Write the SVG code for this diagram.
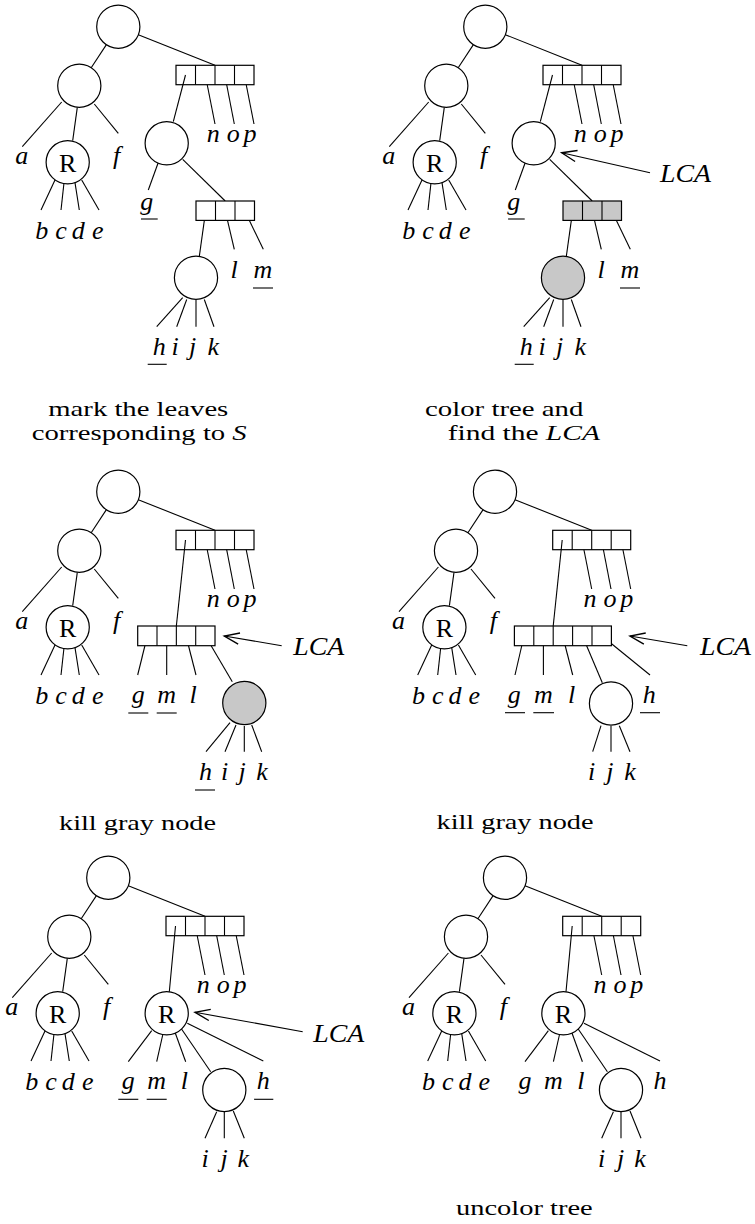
<svg xmlns="http://www.w3.org/2000/svg" width="755" height="1224" viewBox="0 0 755 1224">
<style>
.n{fill:#fff;stroke:#000;stroke-width:1.2}
.g{fill:#c8c8c8;stroke:#000;stroke-width:1.2}
.e line,line.e{stroke:#000;stroke-width:1.1}
.lb{font-family:"Liberation Serif",serif;font-style:italic;font-size:26px;fill:#000;text-anchor:middle}
.rl{font-family:"Liberation Serif",serif;font-size:26px;fill:#000;text-anchor:middle}
.cap{font-family:"Liberation Serif",serif;font-size:22px;fill:#000;text-anchor:middle}
.ul{stroke:#000;stroke-width:1.1}
.ar{stroke:#000;stroke-width:1.1;marker-end:url(#arr)}
</style>
<defs>
<marker id="arr" markerUnits="userSpaceOnUse" markerWidth="20" markerHeight="20" refX="0" refY="0" viewBox="-14 -8 16 16" orient="auto" overflow="visible">
<path d="M-12,-4.5 L0,0 L-12,4.5" fill="none" stroke="#000" stroke-width="1.1"/>
</marker>
<g id="common">
<g class="e">
<line x1="138.3" y1="34.7" x2="215" y2="65.3"/>
<line x1="106.4" y1="44.6" x2="91.2" y2="67.7"/>
<line x1="61.7" y1="102" x2="22.3" y2="146.7"/>
<line x1="77.3" y1="107.3" x2="72.7" y2="140.7"/>
<line x1="94.3" y1="104" x2="118.3" y2="133.3"/>
<line x1="55" y1="180" x2="41" y2="210"/>
<line x1="64" y1="182.7" x2="61" y2="210"/>
<line x1="75" y1="182.7" x2="79.3" y2="210"/>
<line x1="81.7" y1="180" x2="99" y2="210"/>
<line x1="205.3" y1="75" x2="215" y2="124"/>
<line x1="224.8" y1="75" x2="234.3" y2="124"/>
<line x1="244.3" y1="75" x2="254" y2="124"/>
</g>
<circle class="n" cx="118.3" cy="26.7" r="21.6"/>
<circle class="n" cx="79.3" cy="85.7" r="21.6"/>
<circle class="n" cx="67.7" cy="162.3" r="21.6"/>
<text class="rl" x="67.7" y="171.5">R</text>
<rect class="n" x="176" y="65.3" width="78" height="19.4" fill="none"/>
<line class="e" x1="195.5" y1="65.3" x2="195.5" y2="84.7"/>
<line class="e" x1="215" y1="65.3" x2="215" y2="84.7"/>
<line class="e" x1="234.5" y1="65.3" x2="234.5" y2="84.7"/>
<text class="lb" x="21.7" y="163.5">a</text>
<text class="lb" x="116.7" y="163.5">f</text>
<text class="lb" x="41.7" y="239">b</text>
<text class="lb" x="61" y="239">c</text>
<text class="lb" x="78.3" y="239">d</text>
<text class="lb" x="97.7" y="239">e</text>
<text class="lb" x="213.3" y="141.7">n</text>
<text class="lb" x="233.3" y="141.7">o</text>
<text class="lb" x="250" y="141.7">p</text>
</g>
</defs>

<!-- Panel 1 -->
<g id="panel1">
<use href="#common"/>
<g id="p1-connectors" class="e">
<line x1="185.5" y1="75" x2="173.3" y2="121.7"/>
<line x1="158" y1="163.3" x2="148.3" y2="190"/>
<line x1="182.7" y1="159.3" x2="225.2" y2="201"/>
<line x1="205.7" y1="210.7" x2="199.3" y2="256.5"/>
<line x1="225.2" y1="210.7" x2="234.3" y2="249.3"/>
<line x1="244.7" y1="210.7" x2="263.3" y2="249.3"/>
<line x1="182.7" y1="297.7" x2="156.7" y2="326.7"/>
<line x1="186.7" y1="299.5" x2="176.7" y2="326.7"/>
<line x1="196" y1="299.4" x2="196" y2="326.7"/>
<line x1="204.3" y1="299.5" x2="214" y2="326.7"/>
</g>
<g id="p1-n3"><circle class="n" cx="166.7" cy="143.3" r="21.6"/></g>
<g id="p1-box2"><rect class="n" x="196" y="201" width="58.5" height="19.4"/><line class="e" x1="215.5" y1="201" x2="215.5" y2="220.4"/><line class="e" x1="235" y1="201" x2="235" y2="220.4"/></g>
<g id="p1-n4"><circle class="n" cx="196" cy="277.7" r="21.6"/></g>
<g id="p1-labels">
<text class="lb" x="146.7" y="210">g</text><line class="ul" x1="141" y1="219" x2="157.7" y2="219"/>
<text class="lb" x="234" y="278">l</text>
<text class="lb" x="263" y="278">m</text><line class="ul" x1="253" y1="288" x2="273" y2="288"/>
<text class="lb" x="159.3" y="355">h</text><line class="ul" x1="147.7" y1="364.3" x2="166.7" y2="364.3"/>
<text class="lb" x="175" y="355">i</text>
<text class="lb" x="192.7" y="355">j</text>
<text class="lb" x="213.3" y="355">k</text>
</g>
<text class="cap" x="138.3" y="415.5" textLength="180" lengthAdjust="spacingAndGlyphs">mark the leaves</text>
<text class="cap" x="139.2" y="440" textLength="215" lengthAdjust="spacingAndGlyphs">corresponding to <tspan font-style="italic">S</tspan></text>
</g>

<!-- Panel 2 -->
<g id="panel2" transform="translate(367,0)">
<use href="#common"/>
<g id="p2-connectors" class="e">
<line x1="185.5" y1="75" x2="173.3" y2="121.7"/>
<line x1="158" y1="163.3" x2="148.3" y2="190"/>
<line x1="182.7" y1="159.3" x2="225.2" y2="201"/>
<line x1="205.7" y1="210.7" x2="199.3" y2="256.5"/>
<line x1="225.2" y1="210.7" x2="234.3" y2="249.3"/>
<line x1="244.7" y1="210.7" x2="263.3" y2="249.3"/>
<line x1="182.7" y1="297.7" x2="156.7" y2="326.7"/>
<line x1="186.7" y1="299.5" x2="176.7" y2="326.7"/>
<line x1="196" y1="299.4" x2="196" y2="326.7"/>
<line x1="204.3" y1="299.5" x2="214" y2="326.7"/>
<line class="ar" x1="283" y1="172.7" x2="194.7" y2="152.7"/>
</g>
<g id="p2-n3"><circle class="n" cx="166.7" cy="143.3" r="21.6"/></g>
<g id="p2-box2"><rect class="g" x="196" y="201" width="58.5" height="19.4"/><line class="e" x1="215.5" y1="201" x2="215.5" y2="220.4"/><line class="e" x1="235" y1="201" x2="235" y2="220.4"/></g>
<g id="p2-n4"><circle class="g" cx="196" cy="277.7" r="21.6"/></g>
<g id="p2-labels">
<text class="lb" x="146.7" y="210">g</text><line class="ul" x1="141" y1="219" x2="157.7" y2="219"/>
<text class="lb" x="234" y="278">l</text>
<text class="lb" x="263" y="278">m</text><line class="ul" x1="253" y1="288" x2="273" y2="288"/>
<text class="lb" x="159.3" y="355">h</text><line class="ul" x1="147.7" y1="364.3" x2="166.7" y2="364.3"/>
<text class="lb" x="175" y="355">i</text>
<text class="lb" x="192.7" y="355">j</text>
<text class="lb" x="213.3" y="355">k</text>
<text class="lb" x="293" y="181.7" style="text-anchor:start" textLength="51" lengthAdjust="spacingAndGlyphs">LCA</text>
</g>
<text class="cap" x="137.2" y="415.5" textLength="158.3" lengthAdjust="spacingAndGlyphs">color tree and</text>
<text class="cap" x="156.8" y="440" textLength="152.3" lengthAdjust="spacingAndGlyphs">find the <tspan font-style="italic">LCA</tspan></text>
</g>

<!-- Panel 3 -->
<g id="panel3" transform="translate(0,465)">
<use href="#common"/>
<g id="p3-connectors" class="e">
<line x1="185.5" y1="75" x2="176.35" y2="161"/>
<line x1="147.3" y1="171" x2="137.7" y2="210"/>
<line x1="166.7" y1="171" x2="166.7" y2="210"/>
<line x1="186" y1="171" x2="196" y2="210"/>
<line x1="205.4" y1="171" x2="232.3" y2="216.7"/>
<line x1="230" y1="257.7" x2="206" y2="286.7"/>
<line x1="236" y1="260" x2="225" y2="286.7"/>
<line x1="244.3" y1="261" x2="244.3" y2="286.7"/>
<line x1="251.7" y1="260" x2="261.7" y2="286.7"/>
<line class="ar" x1="281.7" y1="180.7" x2="224.3" y2="171"/>
</g>
<g id="p3-box2"><rect class="n" x="137.7" y="161" width="77.3" height="19.7"/><line class="e" x1="157" y1="161" x2="157" y2="180.7"/><line class="e" x1="176.35" y1="161" x2="176.35" y2="180.7"/><line class="e" x1="195.7" y1="161" x2="195.7" y2="180.7"/></g>
<g id="p3-n4"><circle class="g" cx="244.3" cy="238" r="21.6"/></g>
<g id="p3-labels">
<text class="lb" x="138.3" y="237.5">g</text><line class="ul" x1="128.3" y1="248" x2="148.3" y2="248"/>
<text class="lb" x="166.7" y="237.5">m</text><line class="ul" x1="156.7" y1="248" x2="176.7" y2="248"/>
<text class="lb" x="193" y="237.5">l</text>
<text class="lb" x="205.5" y="315">h</text><line class="ul" x1="195" y1="325" x2="215" y2="325"/>
<text class="lb" x="224.5" y="315">i</text>
<text class="lb" x="242" y="315">j</text>
<text class="lb" x="262" y="315">k</text>
<text class="lb" x="293.3" y="190" style="text-anchor:start" textLength="51" lengthAdjust="spacingAndGlyphs">LCA</text>
</g>
<text class="cap" x="137.5" y="365" textLength="157" lengthAdjust="spacingAndGlyphs">kill gray node</text>
</g>

<!-- Panel 4 -->
<g id="panel4" transform="translate(376.7,465)">
<use href="#common"/>
<g id="p4-connectors" class="e">
<line x1="185.5" y1="75" x2="176.5" y2="161"/>
<line x1="147.3" y1="171" x2="138.3" y2="210"/>
<line x1="166.7" y1="171" x2="166.7" y2="210"/>
<line x1="186" y1="171" x2="196" y2="210"/>
<line x1="205.8" y1="171" x2="225.6" y2="217.7"/>
<line x1="225.3" y1="171" x2="273.3" y2="210"/>
<line x1="224.3" y1="260.7" x2="216" y2="286.7"/>
<line x1="234.3" y1="261" x2="234.3" y2="286.7"/>
<line x1="242.6" y1="260.7" x2="253.3" y2="286.7"/>
<line class="ar" x1="310.6" y1="180.7" x2="253.3" y2="171"/>
</g>
<g id="p4-box2"><rect class="n" x="137.7" y="161" width="97" height="19.7"/><line class="e" x1="157.1" y1="161" x2="157.1" y2="180.7"/><line class="e" x1="176.5" y1="161" x2="176.5" y2="180.7"/><line class="e" x1="195.9" y1="161" x2="195.9" y2="180.7"/><line class="e" x1="215.3" y1="161" x2="215.3" y2="180.7"/></g>
<g id="p4-n4"><circle class="n" cx="234.3" cy="238.5" r="21.6"/></g>
<g id="p4-labels">
<text class="lb" x="137.6" y="238">g</text><line class="ul" x1="128.3" y1="247.7" x2="148.3" y2="247.7"/>
<text class="lb" x="166.6" y="238">m</text><line class="ul" x1="156.6" y1="247.7" x2="177.3" y2="247.7"/>
<text class="lb" x="195" y="238">l</text>
<text class="lb" x="272.6" y="238">h</text><line class="ul" x1="263.3" y1="247.7" x2="283.3" y2="247.7"/>
<text class="lb" x="215" y="315">i</text>
<text class="lb" x="233.3" y="315">j</text>
<text class="lb" x="253.3" y="315">k</text>
<text class="lb" x="323.3" y="190" style="text-anchor:start" textLength="51" lengthAdjust="spacingAndGlyphs">LCA</text>
</g>
<text class="cap" x="138.3" y="364.3" textLength="157" lengthAdjust="spacingAndGlyphs">kill gray node</text>
</g>

<!-- Panel 5 -->
<g id="panel5" transform="translate(-10,851)">
<use href="#common"/>
<g id="p5-connectors" class="e">
<line x1="185.5" y1="75" x2="179.3" y2="140.7"/>
<line x1="161.7" y1="179.7" x2="138.3" y2="210.7"/>
<line x1="172.7" y1="184" x2="166.7" y2="210.7"/>
<line x1="185" y1="181.3" x2="195.7" y2="210.7"/>
<line x1="191" y1="177.3" x2="220.7" y2="220.7"/>
<line x1="197.3" y1="172.3" x2="273.3" y2="210"/>
<line x1="226.7" y1="260.7" x2="215" y2="287.3"/>
<line x1="234.3" y1="261" x2="234.3" y2="287.3"/>
<line x1="243.3" y1="260" x2="254.3" y2="287.3"/>
<line class="ar" x1="312.7" y1="180.7" x2="205" y2="161.3"/>
</g>
<g id="p5-R2"><circle class="n" cx="176.7" cy="162.3" r="21.6"/><text class="rl" x="176.7" y="171.5">R</text></g>
<g id="p5-n4"><circle class="n" cx="234.3" cy="239" r="21.6"/></g>
<g id="p5-labels">
<text class="lb" x="138.3" y="237.5">g</text><line class="ul" x1="128.3" y1="248.3" x2="148.3" y2="248.3"/>
<text class="lb" x="166.7" y="237.5">m</text><line class="ul" x1="156.7" y1="248.3" x2="176.7" y2="248.3"/>
<text class="lb" x="194.3" y="237.5">l</text>
<text class="lb" x="273.3" y="237.5">h</text><line class="ul" x1="264" y1="248.3" x2="283.3" y2="248.3"/>
<text class="lb" x="215" y="315.7">i</text>
<text class="lb" x="234" y="315.7">j</text>
<text class="lb" x="253.3" y="315.7">k</text>
<text class="lb" x="323.3" y="190.7" style="text-anchor:start" textLength="51" lengthAdjust="spacingAndGlyphs">LCA</text>
</g>
</g>

<!-- Panel 6 -->
<g id="panel6" transform="translate(386.7,851)">
<use href="#common"/>
<g id="p6-connectors" class="e">
<line x1="185.5" y1="75" x2="179.3" y2="140.7"/>
<line x1="161.7" y1="179.7" x2="138.3" y2="210.7"/>
<line x1="172.7" y1="184" x2="166.7" y2="210.7"/>
<line x1="185" y1="181.3" x2="195.7" y2="210.7"/>
<line x1="191" y1="177.3" x2="220.7" y2="220.7"/>
<line x1="197.3" y1="172.3" x2="273.3" y2="210"/>
<line x1="226.7" y1="260.7" x2="215" y2="287.3"/>
<line x1="234.3" y1="261" x2="234.3" y2="287.3"/>
<line x1="243.3" y1="260" x2="254.3" y2="287.3"/>
</g>
<g id="p6-R2"><circle class="n" cx="176.7" cy="162.3" r="21.6"/><text class="rl" x="176.7" y="171.5">R</text></g>
<g id="p6-n4"><circle class="n" cx="234.3" cy="239" r="21.6"/></g>
<g id="p6-labels">
<text class="lb" x="138.3" y="237.5">g</text>
<text class="lb" x="166.7" y="237.5">m</text>
<text class="lb" x="194.3" y="237.5">l</text>
<text class="lb" x="273.3" y="237.5">h</text>
<text class="lb" x="215" y="315.7">i</text>
<text class="lb" x="234" y="315.7">j</text>
<text class="lb" x="253.3" y="315.7">k</text>
</g>
<text class="cap" x="137.6" y="364" textLength="136.7" lengthAdjust="spacingAndGlyphs">uncolor tree</text>
</g>
</svg>
